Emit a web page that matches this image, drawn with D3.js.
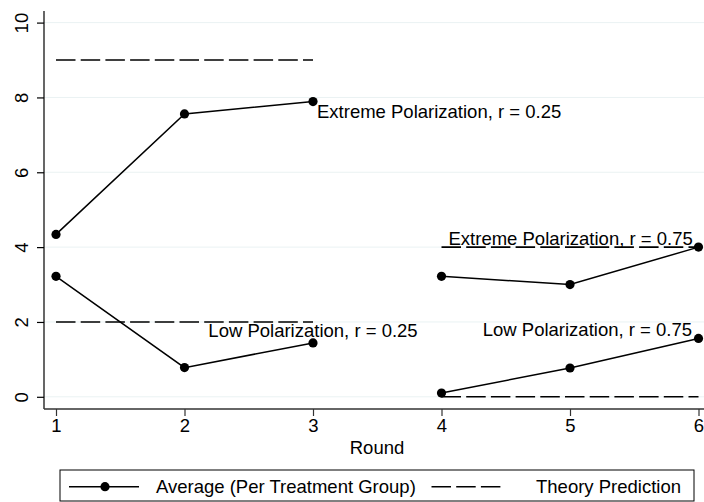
<!DOCTYPE html>
<html>
<head>
<meta charset="utf-8">
<script src="https://cdn.jsdelivr.net/npm/d3@7/dist/d3.min.js"></script>
<style>
  html, body { margin: 0; padding: 0; background: #fff; }
  svg { display: block; }
  text { font-family: "Liberation Sans", Arial, Helvetica, sans-serif; fill: #000; }
</style>
</head>
<body>
<script>
// ---- data ----
const rounds = [1, 2, 3, 4, 5, 6];
const yTicks = [0, 2, 4, 6, 8, 10];
const extremeLowR = [{round: 1, value: 4.34}, {round: 2, value: 7.56}, {round: 3, value: 7.89}];
const lowLowR = [{round: 1, value: 3.22}, {round: 2, value: 0.78}, {round: 3, value: 1.44}];
const extremeHighR = [{round: 4, value: 3.22}, {round: 5, value: 3.0}, {round: 6, value: 4.0}];
const lowHighR = [{round: 4, value: 0.1}, {round: 5, value: 0.77}, {round: 6, value: 1.56}];
const theory = [
  {from: 1, to: 3, value: 9},
  {from: 1, to: 3, value: 2},
  {from: 4, to: 6, value: 4},
  {from: 4, to: 6, value: 0}
];
const labels = [
  {text: "Extreme Polarization, r = 0.25", round: 3, value: 7.89, anchor: "start", dx: 4, dy: 16.5},
  {text: "Low Polarization, r = 0.25", round: 3, value: 1.44, anchor: "middle", dx: 0, dy: -5.5},
  {text: "Extreme Polarization, r = 0.75", round: 4, value: 4.0, anchor: "start", dx: 7, dy: -2},
  {text: "Low Polarization, r = 0.75", round: 6, value: 1.56, anchor: "end", dx: -6.5, dy: -2}
];
const legendItems = ["Average (Per Treatment Group)", "Theory Prediction"];
const xTitle = "Round";

// ---- layout ----
const W = 704, H = 502;
const FS = "18.5px";
const DASH = "19.5,5.2";
const plot = {left: 44, right: 704, top: 11, bottom: 409};

const svg = d3.select("body").append("svg").attr("width", W).attr("height", H);

const x = d3.scaleLinear().domain([1, 6]).range([56, 698.5]);
const y = d3.scaleLinear().domain([0, 10]).range([396.8, 22.6]);

// gridlines
svg.append("g").selectAll("line").data(yTicks).join("line")
  .attr("x1", plot.left).attr("x2", plot.right)
  .attr("y1", d => y(d)).attr("y2", d => y(d))
  .attr("stroke", "#eaf2f3").attr("stroke-width", 1);

// theory dashed lines
svg.append("g").selectAll("line").data(theory).join("line")
  .attr("x1", d => x(d.from)).attr("x2", d => x(d.to))
  .attr("y1", d => y(d.value)).attr("y2", d => y(d.value))
  .attr("stroke", "#000").attr("stroke-width", 1.6)
  .attr("stroke-dasharray", DASH);

// series
const line = d3.line().x(d => x(d.round)).y(d => y(d.value));
const series = [extremeLowR, lowLowR, extremeHighR, lowHighR];
const sg = svg.append("g");
series.forEach(s => {
  sg.append("path").datum(s).attr("d", line)
    .attr("fill", "none").attr("stroke", "#000").attr("stroke-width", 1.5);
  sg.selectAll(null).data(s).join("circle")
    .attr("cx", d => x(d.round)).attr("cy", d => y(d.value))
    .attr("r", 4.6).attr("fill", "#000");
});

// labels
svg.append("g").selectAll("text").data(labels).join("text")
  .attr("x", d => x(d.round) + d.dx).attr("y", d => y(d.value) + d.dy)
  .attr("text-anchor", d => d.anchor)
  .style("font-size", FS)
  .text(d => d.text);

// y axis
const yAxis = d3.axisLeft(y).tickValues(yTicks).tickSize(7).tickPadding(0).tickFormat(d3.format("d"));
const ya = svg.append("g").attr("transform", `translate(${plot.left},0)`).call(yAxis);
ya.select(".domain").attr("d", `M0,${plot.top}V${plot.bottom}`).attr("stroke", "#000").attr("stroke-width", 1.2);
ya.selectAll(".tick line").attr("stroke", "#000").attr("stroke-width", 1.2);
ya.selectAll(".tick text")
  .attr("x", 0).attr("dy", null).attr("y", 0)
  .attr("transform", "translate(-16,0) rotate(-90)")
  .attr("text-anchor", "middle")
  .style("font-size", FS)
  .style("font-family", "Liberation Sans, Arial, sans-serif");

// x axis
const xAxis = d3.axisBottom(x).tickValues(rounds).tickSize(7).tickPadding(3).tickFormat(d3.format("d"));
const xa = svg.append("g").attr("transform", `translate(0,${plot.bottom})`).call(xAxis);
xa.select(".domain").attr("d", `M${plot.left},0H${plot.right}`).attr("stroke", "#333").attr("stroke-width", 1.4);
xa.selectAll(".tick line").attr("stroke", "#333").attr("stroke-width", 1.2);
xa.selectAll(".tick text")
  .style("font-size", FS)
  .style("font-family", "Liberation Sans, Arial, sans-serif");

svg.append("text").attr("x", 377).attr("y", 454)
  .attr("text-anchor", "middle").style("font-size", FS).text(xTitle);

// legend
const lg = svg.append("g");
const box = {x: 60, y: 470, w: 634, h: 31};
lg.append("rect").attr("x", box.x).attr("y", box.y).attr("width", box.w).attr("height", box.h)
  .attr("fill", "#fff").attr("stroke", "#000").attr("stroke-width", 1);
const ly = 486.7;
lg.append("line").attr("x1", 69).attr("x2", 139).attr("y1", ly).attr("y2", ly)
  .attr("stroke", "#000").attr("stroke-width", 1.5);
lg.append("circle").attr("cx", 105).attr("cy", ly).attr("r", 4.6).attr("fill", "#000");
lg.append("text").attr("x", 156).attr("y", ly + 6.6).style("font-size", FS).text(legendItems[0]);
lg.append("line").attr("x1", 431.5).attr("x2", 501).attr("y1", ly).attr("y2", ly)
  .attr("stroke", "#000").attr("stroke-width", 1.6).attr("stroke-dasharray", DASH);
lg.append("text").attr("x", 536).attr("y", ly + 6.6).style("font-size", FS).text(legendItems[1]);
</script>
</body>
</html>
